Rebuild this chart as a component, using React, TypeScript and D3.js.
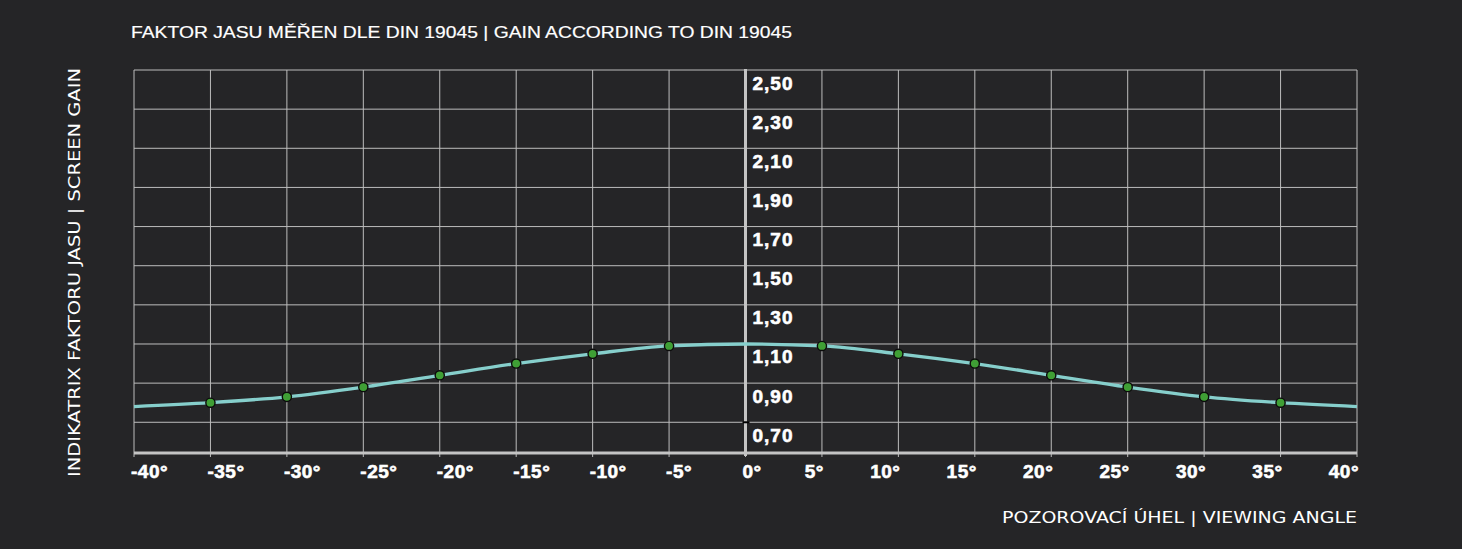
import React from "react";
import * as d3 from "d3";

const angles = [-40, -35, -30, -25, -20, -15, -10, -5, 0, 5, 10, 15, 20, 25, 30, 35, 40];
const gains = [0.78, 0.80, 0.83, 0.88, 0.94, 1.00, 1.05, 1.09, 1.10, 1.09, 1.05, 1.00, 0.94, 0.88, 0.83, 0.80, 0.78];
const markerAngles = [-35, -30, -25, -20, -15, -10, -5, 5, 10, 15, 20, 25, 30, 35];
const yTicks = [2.5, 2.3, 2.1, 1.9, 1.7, 1.5, 1.3, 1.1, 0.9, 0.7];
const xTicks = angles;
const yDomain = [0.543, 2.5];

const title = "FAKTOR JASU MĚŘEN DLE DIN 19045 | GAIN ACCORDING TO DIN 19045";
const xTitle = "POZOROVACÍ ÚHEL | VIEWING ANGLE";
const yTitle = "INDIKATRIX FAKTORU JASU | SCREEN GAIN";

const W = 1462;
const H = 549;
const L = 134;
const R = 1357;
const T = 70;
const B = 453;

export default function App() {
  const x = d3.scaleLinear().domain([-40, 40]).range([L, R]);
  const y = d3.scaleLinear().domain(yDomain).range([B, T]);
  const data = angles.map((a, i) => ({ a, g: gains[i] }));
  const line = d3
    .line<{ a: number; g: number }>()
    .x((d) => x(d.a))
    .y((d) => y(d.g))
    .curve(d3.curveMonotoneX);
  const fmt = (v: number) => d3.format(".2f")(v).replace(".", ",");
  const gridColor = "#bdbdbd";
  const axisColor = "#c4c4c4";
  const labelFont = "'Liberation Sans', Arial, sans-serif";
  const titleFont = "'DejaVu Sans', Verdana, sans-serif";

  return (
    <svg
      width={W}
      height={H}
      style={{ position: "absolute", left: 0, top: 0, background: "#252527" }}
    >
      <rect x={0} y={0} width={W} height={H} fill="#252527" />
      {/* title */}
      <text
        x={131}
        y={38}
        fill="#ffffff"
        fontFamily={labelFont}
        fontSize={17}
        textLength={661}
        lengthAdjust="spacingAndGlyphs"
        stroke="#ffffff"
        strokeWidth={0.2}
      >
        {title}
      </text>

      {/* horizontal grid */}
      {yTicks.map((v) => (
        <line key={"h" + v} x1={L} x2={R} y1={y(v)} y2={y(v)} stroke={gridColor} strokeWidth={1} />
      ))}
      {/* vertical grid */}
      {xTicks.map((v) => (
        <line key={"v" + v} x1={x(v)} x2={x(v)} y1={T} y2={B + 4} stroke={gridColor} strokeWidth={1} />
      ))}
      {/* bottom axis */}
      <line x1={L} x2={R} y1={B} y2={B} stroke={axisColor} strokeWidth={3} />
      {/* center vertical axis */}
      <line x1={x(0)} x2={x(0)} y1={T - 1} y2={B + 3} stroke={axisColor} strokeWidth={3} />
      <line x1={x(0) - 3} x2={x(0) + 4} y1={y(0.7)} y2={y(0.7)} stroke="#000000" strokeWidth={2} />

      {/* y labels */}
      {yTicks.map((v) => (
        <text
          key={"yl" + v}
          x={x(0) + 7}
          y={y(v) + 19.5}
          fill="#ffffff"
          stroke="#ffffff"
          strokeWidth={0.6}
          fontFamily={labelFont}
          fontWeight="bold"
          fontSize={19}
          letterSpacing={1}
        >
          {fmt(v)}
        </text>
      ))}

      {/* x labels */}
      {xTicks.map((v) => (
        <text
          key={"xl" + v}
          x={v > 0 ? x(v) + 2 : x(v) - 3}
          y={478}
          textAnchor={v > 0 ? "end" : "start"}
          fill="#ffffff"
          stroke="#ffffff"
          strokeWidth={0.6}
          fontFamily={labelFont}
          fontWeight="bold"
          fontSize={19}
          letterSpacing={0.5}
        >
          {v + "°"}
        </text>
      ))}

      {/* curve */}
      <path d={line(data) || ""} fill="none" stroke="#86cfcc" strokeWidth={3.3} />
      {markerAngles.map((a) => {
        const g = gains[angles.indexOf(a)];
        return (
          <circle key={"m" + a} cx={x(a)} cy={y(g)} r={4.6} fill="#3f9f35" stroke="#0b0b0b" strokeWidth={1.4} />
        );
      })}

      {/* axis titles */}
      <text
        x={R}
        y={523}
        textAnchor="end"
        fill="#ffffff"
        fontFamily={titleFont}
        fontSize={16}
        textLength={355}
        lengthAdjust="spacingAndGlyphs"
      >
        {xTitle}
      </text>
      <text
        transform={`translate(80,477) rotate(-90)`}
        x={0}
        y={0}
        fill="#ffffff"
        fontFamily={titleFont}
        fontSize={16}
        textLength={409}
        lengthAdjust="spacingAndGlyphs"
      >
        {yTitle}
      </text>
    </svg>
  );
}
